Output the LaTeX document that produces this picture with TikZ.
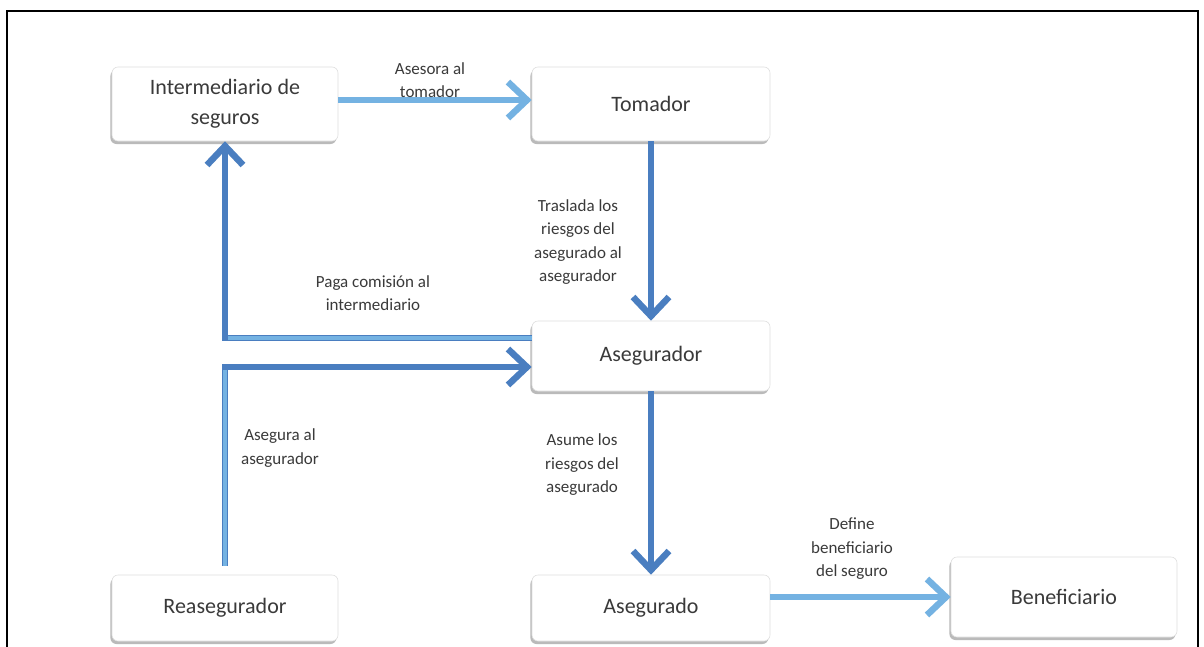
\documentclass[tikz,border=0pt]{standalone}
\usepackage{fontspec}
\setmainfont{Carlito}
\usetikzlibrary{arrows.meta,shadows,calc}
\definecolor{linkdark}{HTML}{4A7EC0}
\definecolor{linklight}{HTML}{74B2E2}
\definecolor{inkgray}{HTML}{3A3A3A}
\tikzset{
  entity/.style={rounded corners=6pt, fill=white, draw=gray!25, line width=0.6pt,
    drop shadow={shadow xshift=-1.6pt, shadow yshift=-3pt, opacity=0.6, fill=gray!90},
    font=\fontsize{22}{30}\selectfont, text=inkgray, align=center, inner sep=0pt},
  flow/.style={line width=6.5pt, draw=linkdark,
    -{Straight Barb[length=19pt, width=36pt]}},
  flowlight/.style={flow, draw=linklight},
  tag/.style={font=\fontsize{17}{23.5}\selectfont, text=inkgray, align=center, inner sep=0pt},
}
\begin{document}
\begin{tikzpicture}[x=1pt, y=-1pt]
\useasboundingbox (0,0) rectangle (1204,646);
\fill[white] (0,0) rectangle (1204,646);
% frame
\draw[line width=2pt] (7,652) -- (7,11) -- (1198,11) -- (1198,652);

% participants
\node[entity, minimum width=226pt, minimum height=74pt] (inter) at (225,104) {Intermediario de\\seguros};
\node[entity, minimum width=238pt, minimum height=74pt] (tomador) at (651,104) {Tomador};
\node[entity, minimum width=238pt, minimum height=70pt] (aseg) at (651,356) {Asegurador};
\node[entity, minimum width=226pt, minimum height=66pt] (reaseg) at (225,608) {Reasegurador};
\node[entity, minimum width=238pt, minimum height=66pt] (asegdo) at (651,608) {Asegurado};
\node[entity, minimum width=226pt, minimum height=80pt] (benef) at (1064,597) {Beneficiario};

% relations
\draw[flowlight] (inter.east |- 0,100) -- (tomador.west |- 0,100);
\node[tag] (tAsesora) at (430,80) {Asesora al\\tomador};

\draw[flow] (tomador) -- (aseg);
\node[tag] (tTraslada) at (578,242) {Traslada los\\riesgos del\\asegurado al\\asegurador};

\coordinate (pagacorner) at (inter.south |- 0,338);
\draw[flow] ([yshift=18pt]aseg.west) -- (pagacorner) -- (inter.south);
\draw[line width=3.5pt, linklight] ([yshift=18pt]aseg.west) -- ([xshift=3pt]pagacorner);
\node[tag] (tPaga) at (373,293) {Paga comisión al\\intermediario};

\coordinate (asegcorner) at (reaseg.north |- 0,367);
\draw[flow, shorten <=9pt] (reaseg.north) -- (asegcorner) -- ([yshift=-11pt]aseg.west);
\draw[line width=3.5pt, linklight, shorten <=9pt] (reaseg.north) -- ([yshift=-3pt]asegcorner);
\node[tag] (tAsegura) at (280,448) {Asegura al\\asegurador};

\draw[flow] (aseg) -- (asegdo);
\node[tag] (tAsume) at (582,465) {Asume los\\riesgos del\\asegurado};

\draw[flowlight] (asegdo.east |- benef.west) -- (benef.west);
\node[tag] (tDefine) at (852,549) {Define\\beneficiario\\del seguro};
\end{tikzpicture}
\end{document}
